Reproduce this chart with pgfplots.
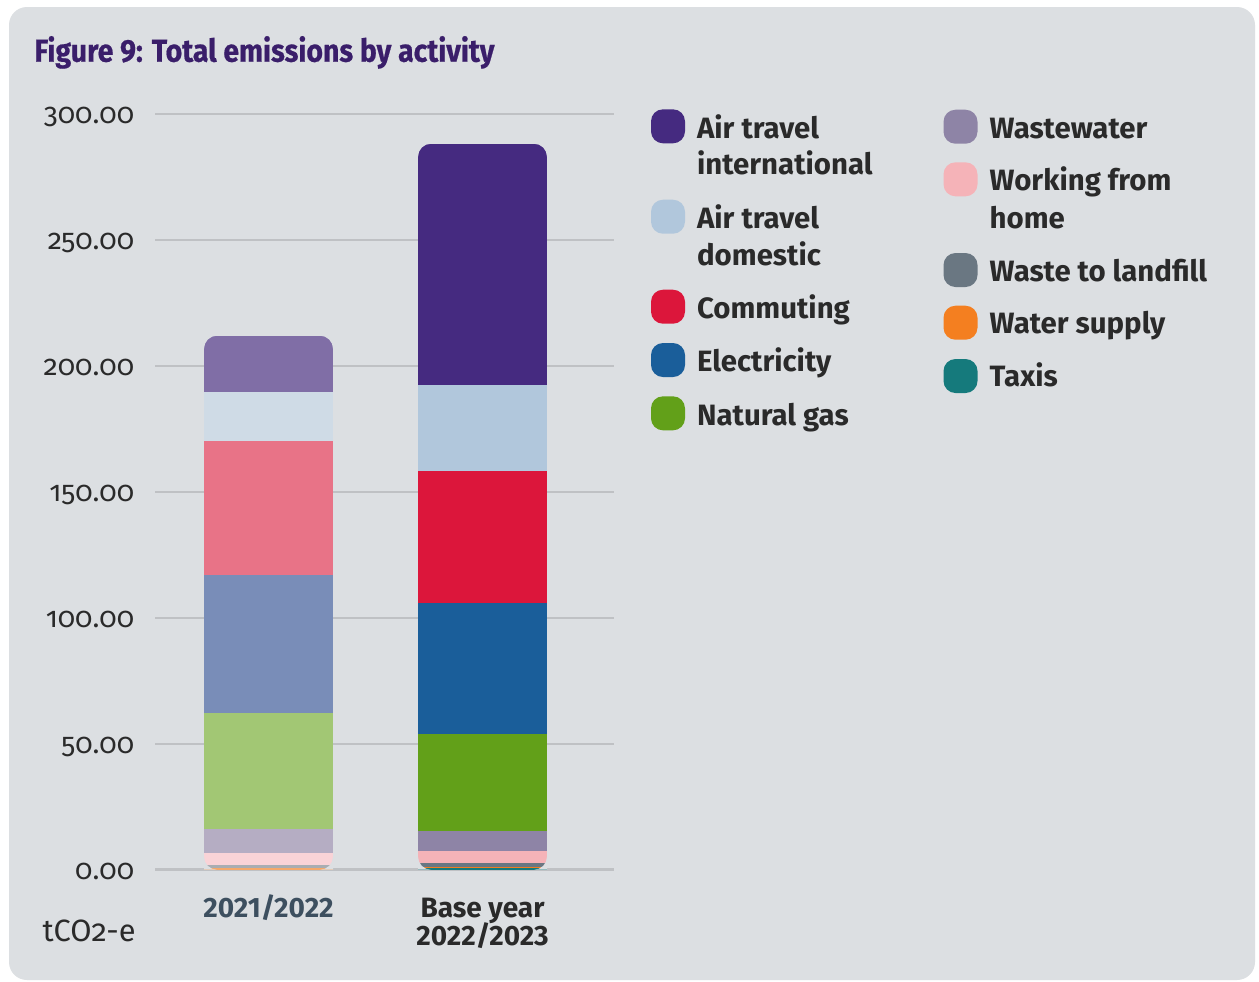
\documentclass[border=0pt]{standalone}
\usepackage{pgfplots}
\pgfplotsset{compat=1.18}
\usepackage{fontspec}
\setmainfont{Fira Sans}[Numbers=OldStyle]
\newfontfamily\titlefont{Fira Sans}[FakeStretch=0.9, FakeBold=0.6]
\newfontfamily\labfont{Fira Sans}[Numbers=Lining]
\newcommand\tightlines{\lineskiplimit=-20pt\relax}

\definecolor{bgc}{HTML}{DCDFE2}
\definecolor{gridc}{HTML}{BFC1C4}
\definecolor{titlec}{HTML}{3A1E6A}
\definecolor{txt}{HTML}{2A2A2A}
\definecolor{lab1}{HTML}{3D4F5F}
% base year colours
\definecolor{intl}{HTML}{452A80}
\definecolor{dom}{HTML}{B1C7DC}
\definecolor{comm}{HTML}{DC163B}
\definecolor{elec}{HTML}{1A5E9A}
\definecolor{gas}{HTML}{62A019}
\definecolor{ww}{HTML}{8E84A6}
\definecolor{wfh}{HTML}{F5B3B8}
\definecolor{land}{HTML}{6A7782}
\definecolor{water}{HTML}{F47F20}
\definecolor{taxi}{HTML}{157A7C}
% 2021/2022 colours (faded)
\definecolor{intlB}{HTML}{806EA6}
\definecolor{domB}{HTML}{CFDBE6}
\definecolor{commB}{HTML}{E87387}
\definecolor{elecB}{HTML}{798DB8}
\definecolor{gasB}{HTML}{A2C774}
\definecolor{wwB}{HTML}{B5ADC3}
\definecolor{wfhB}{HTML}{F9D3D7}
\definecolor{landB}{HTML}{A9ADB2}
\definecolor{waterB}{HTML}{F5A86A}

\begin{document}
\begin{tikzpicture}
% panel, title and legend in pixel units
\begin{scope}[x=0.5pt,y=-0.5pt]
\fill[white] (0,0) rectangle (1259,981);
\fill[bgc, rounded corners=9pt] (9,7) rectangle (1255,980);
\node[anchor=base west, inner sep=0pt, text=titlec, font=\titlefont\bfseries\fontsize{15.8}{18}\selectfont]
  at (34,61.7) {Figure 9: Total emissions by activity};
\node[anchor=base east, inner sep=0pt, text=txt, font=\fontsize{15.4}{17}\selectfont]
  at (136,941) {tCO2-e};
% legend
\tikzset{lt/.style={anchor=base west, inner sep=0pt, text=txt, font=\labfont\bfseries\fontsize{14.7}{17}\selectfont}}
\foreach \c/\y in {intl/126.3, dom/216.7, comm/306.7, elec/360, gas/413.3}
  \fill[\c, rounded corners=6pt] (651,\y-17) rectangle (685,\y+17);
\foreach \c/\y in {ww/126.7, wfh/179.3, land/270, water/322.7, taxi/376}
  \fill[\c, rounded corners=6pt] (943.5,\y-17) rectangle (977.5,\y+17);
\node[lt] at (696.7,138.3) {Air travel};
\node[lt] at (696.7,174.5) {international};
\node[lt] at (696.7,228.3) {Air travel};
\node[lt] at (696.7,265) {domestic};
\node[lt] at (696.7,318.3) {Commuting};
\node[lt] at (696.7,371.7) {Electricity};
\node[lt] at (696.7,425) {Natural gas};
\node[lt] at (989.3,138.3) {Wastewater};
\node[lt] at (989.3,190.7) {Working from};
\node[lt] at (989.3,228.3) {home};
\node[lt] at (989.3,281.7) {Waste to landfill};
\node[lt] at (989.3,333.3) {Water supply};
\node[lt] at (989.3,386.7) {Taxis};
\end{scope}

\begin{axis}[
  at={(155*0.5pt,-869.7*0.5pt)}, anchor=south west,
  scale only axis, width=229.5pt, height=377.85pt,
  xmin=-0.5304, xmax=1.6145,
  ymin=0, ymax=300,
  ybar stacked, bar width=64.5pt,
  axis line style={draw=none},
  tick style={draw=none},
  ymajorgrids, grid style={gridc, line width=1.25pt},
  ytick={0,50,...,300},
  yticklabel style={anchor=base east, inner sep=0pt, xshift=-10.25pt, yshift=-4.65pt,
    text=txt, font=\fontsize{14.3}{16}\selectfont,
    /pgf/number format/.cd, fixed, fixed zerofill, precision=2, assume math mode=true},
  xtick={0,1},
  xticklabels={{\textcolor{lab1}{2021/2022}\\\mbox{}}, {Base year\\2022/2023}},
  xticklabel style={anchor=north, align=center, inner sep=0pt, yshift=-23.65pt,
    text height=14pt,
    text=txt, font=\labfont\bfseries\fontsize{14}{14}\selectfont\tightlines},
  every axis plot/.append style={draw=none},
  % rounded bar corners: background-coloured corner pieces drawn after the bars
  after end axis/.code={
    \fill[bgc] (axis cs:-0.3014,212.0) -- ++(6.5pt,0pt) arc (90:180:6.5pt) -- cycle;
    \fill[bgc] (axis cs:0.3014,212.0) -- ++(0pt,-6.5pt) arc (0:90:6.5pt) -- cycle;
    \fill[bgc] (axis cs:-0.3014,0) -- ++(0pt,6.5pt) arc (180:270:6.5pt) -- cycle;
    \fill[bgc] (axis cs:0.3014,0) -- ++(-6.5pt,0pt) arc (270:360:6.5pt) -- cycle;
    \fill[bgc] (axis cs:0.6986,288.2) -- ++(6.5pt,0pt) arc (90:180:6.5pt) -- cycle;
    \fill[bgc] (axis cs:1.3014,288.2) -- ++(0pt,-6.5pt) arc (0:90:6.5pt) -- cycle;
    \fill[bgc] (axis cs:0.6986,0) -- ++(0pt,6.5pt) arc (180:270:6.5pt) -- cycle;
    \fill[bgc] (axis cs:1.3014,0) -- ++(-6.5pt,0pt) arc (270:360:6.5pt) -- cycle;
  },
]
% bottom to top; first of each pair is 2021/2022, second is base year
\addplot[fill=taxi]   coordinates {(0,0) (1,0.5)};
\addplot[fill=waterB] coordinates {(0,0.8) (1,0)};
\addplot[fill=water]  coordinates {(0,0) (1,0.6)};
\addplot[fill=landB]  coordinates {(0,1.1) (1,0)};
\addplot[fill=land]   coordinates {(0,0) (1,1.6)};
\addplot[fill=wfhB]   coordinates {(0,4.9) (1,0)};
\addplot[fill=wfh]    coordinates {(0,0) (1,4.6)};
\addplot[fill=wwB]    coordinates {(0,9.5) (1,0)};
\addplot[fill=ww]     coordinates {(0,0) (1,7.9)};
\addplot[fill=gasB]   coordinates {(0,46.0) (1,0)};
\addplot[fill=gas]    coordinates {(0,0) (1,38.5)};
\addplot[fill=elecB]  coordinates {(0,54.8) (1,0)};
\addplot[fill=elec]   coordinates {(0,0) (1,52.0)};
\addplot[fill=commB]  coordinates {(0,53.2) (1,0)};
\addplot[fill=comm]   coordinates {(0,0) (1,52.4)};
\addplot[fill=domB]   coordinates {(0,19.5) (1,0)};
\addplot[fill=dom]    coordinates {(0,0) (1,34.5)};
\addplot[fill=intlB]  coordinates {(0,22.2) (1,0)};
\addplot[fill=intl]   coordinates {(0,0) (1,95.6)};
\end{axis}
\end{tikzpicture}
\end{document}
